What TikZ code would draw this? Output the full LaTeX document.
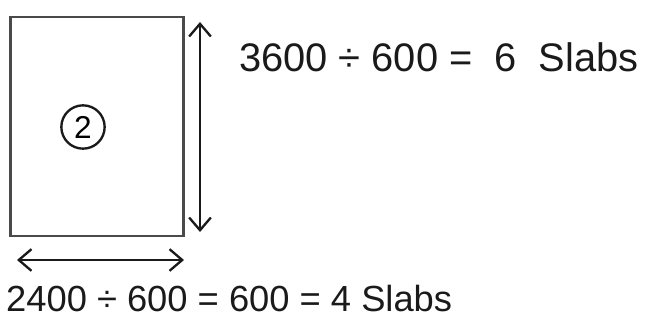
\documentclass[tikz,border=0pt]{standalone}
\usepackage{fontspec}
\setmainfont{Liberation Sans}
\usetikzlibrary{arrows.meta, positioning}
\definecolor{cink}{HTML}{1A1A1A}
\definecolor{cgrey}{HTML}{4A4A4A}
\tikzset{
  every picture/.style={line width=2pt},
  slabbox/.style={draw=cgrey, line width=2.4pt, minimum width=5.19cm, minimum height=6.57cm, inner sep=0pt},
  tag/.style={draw=cink, circle, line width=2pt, minimum size=1.3cm, inner sep=0pt, font=\fontsize{27}{30}\selectfont},
  dimarrow/.style={{Straight Barb[length=3.8mm, width=6.5mm]}-{Straight Barb[length=3.8mm, width=6.5mm]}, draw=cink, line width=2pt},
  sum/.style={font=\fontsize{#1}{38}\selectfont, text=cink, inner sep=0pt, anchor=west},
  sum/.default=32,
}
\begin{document}
\begin{tikzpicture}[x=0.03cm, y=-0.03cm]
  \useasboundingbox (0, 0) rectangle (650, 329);
  \node[slabbox] (slab) at (97, 126.5) {};
  \node[tag] (two) at (83, 127) {2};
  \coordinate (vtop) at (200, 22);
  \coordinate (vbot) at (200, 232);
  \coordinate (hleft) at (17, 260);
  \coordinate (hright) at (184, 260);
  \draw[dimarrow] (vtop) -- (vbot);
  \draw[dimarrow] (hleft) -- (hright);
  \node[sum=34] (length) at (238, 57) {3600 ÷ 600 =\ \ 6\ \ Slabs};
  \node[sum=31] (width) at (5, 299) {2400 ÷ 600 = 600 =\ 4 Slabs};
\end{tikzpicture}
\end{document}
